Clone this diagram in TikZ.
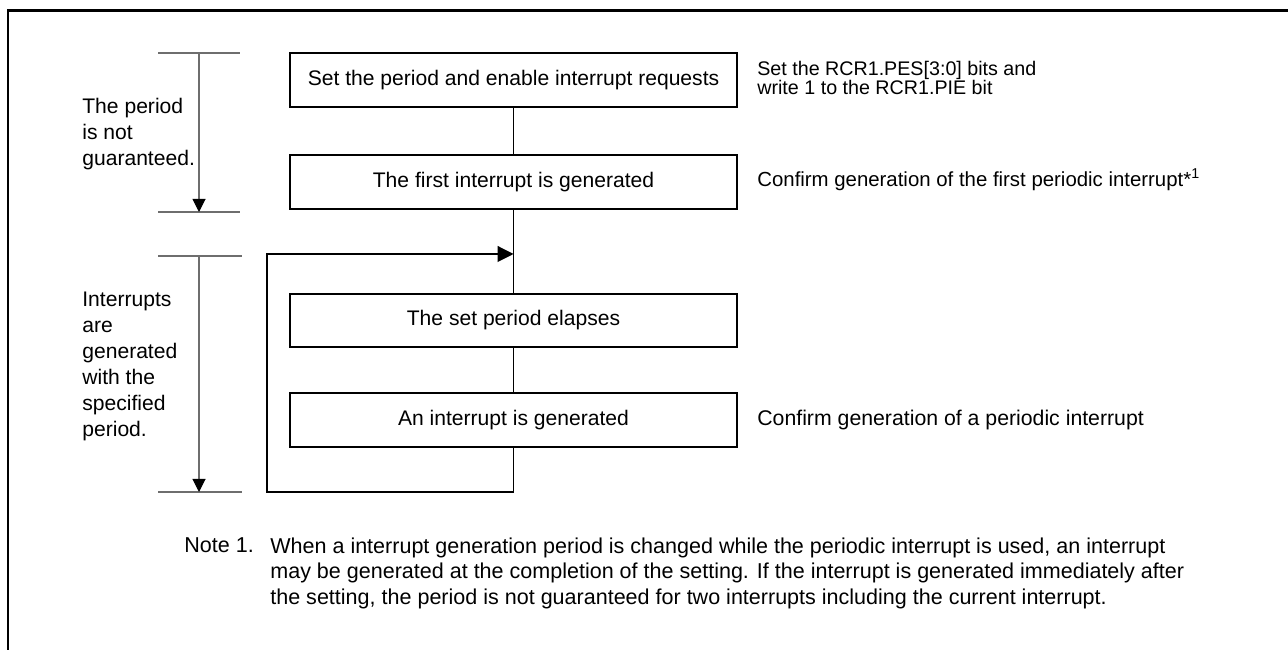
\documentclass[tikz,border=0pt]{standalone}
\usepackage{fontspec}
\setsansfont{Liberation Sans}
\usepackage{tikz}
\usetikzlibrary{arrows.meta,positioning,calc}
\definecolor{SpanGray}{HTML}{6E6E6E}
\newcommand\sidefont{\sffamily\fontsize{11.2}{11}\selectfont\lineskiplimit=-5pt\relax}

\begin{document}
\begin{tikzpicture}[x=1cm,y=1cm,font=\sffamily\fontsize{12}{14.8}\selectfont,
  stepbox/.style={draw,line width=1.1pt,minimum width=8.94cm,minimum height=1.07cm,inner sep=0pt},
  flowline/.style={line width=.6pt},
  spanline/.style={draw=SpanGray,line width=.6pt},
  spanarrow/.style={spanline,-{Triangle[length=.26cm,width=.26cm,color=black]}},
  sidetext/.style={align=left,inner sep=0pt,font=\sidefont},
  notetext/.style={anchor=north west,align=left,inner sep=0pt}]
  % Frame on the top and left only, as in the source figure.
  \useasboundingbox (0,0) rectangle (25.76,13);
  \draw[line width=1.7pt] (0.16,0) -- (0.16,12.78) -- (25.76,12.78);

  \node[stepbox] (setup) at (10.27,11.40) {Set the period and enable interrupt requests};
  \node[stepbox] (first) at (10.27,9.36) {The first interrupt is generated};
  \node[stepbox] (elapse) at (10.27,6.59) {The set period elapses};
  \node[stepbox] (irq) at (10.27,4.60) {An interrupt is generated};

  \coordinate (merge) at (10.27,7.92);
  \coordinate (loopcorner) at (5.34,3.16);
  \draw[flowline] (setup) -- (first);
  \draw[flowline] (first) -- (elapse);
  \draw[flowline] (elapse) -- (irq);
  \draw[flowline,-{Triangle[length=.32cm,width=.32cm]}] (irq.south) |- (loopcorner) |- (merge);

  \coordinate (span1top) at (3.98,11.94);
  \coordinate (span1bot) at (3.98,8.76);
  \coordinate (span2top) at (3.98,7.88);
  \coordinate (span2bot) at (3.98,3.16);
  \draw[spanline] ([xshift=-.82cm]span1top) -- ([xshift=.82cm]span1top);
  \draw[spanline] ([xshift=-.82cm]span1bot) -- ([xshift=.82cm]span1bot);
  \draw[spanline] ([xshift=-.82cm]span2top) -- ([xshift=.86cm]span2top);
  \draw[spanline] ([xshift=-.82cm]span2bot) -- ([xshift=.86cm]span2bot);
  \draw[spanarrow] (span1top) -- (span1bot);
  \draw[spanarrow] (span2top) -- (span2bot);

  \node[notetext] (unsure) at (1.64,11.04) {The period\\is not\\guaranteed.};
  \node[notetext] (steady) at (1.64,7.16) {Interrupts\\are\\generated\\with the\\specified\\period.};

  \node[sidetext,anchor=north west] (setbits) at (15.14,11.79) {Set the RCR1.PES[3:0] bits and\\write 1 to the RCR1.PIE bit};
  \node[sidetext,anchor=base west,font=\sffamily\fontsize{11.6}{14}\selectfont] (firstcheck) at (15.14,9.27) {Confirm generation of the first periodic interrupt*\textsuperscript{1}};
  \node[sidetext,anchor=base west,font=\sffamily\fontsize{12.1}{14}\selectfont] (irqcheck) at (15.14,4.49) {Confirm generation of a periodic interrupt};

  \node[anchor=base west,inner sep=0pt,font=\sffamily\fontsize{12.25}{14.5}\selectfont] (notetag) at (3.68,1.94) {Note 1.};
  \node[notetext,font=\sffamily\fontsize{12.25}{14.5}\selectfont] (notebody) at (5.40,2.25) {When a interrupt generation period is changed while the periodic interrupt is used, an interrupt\\may be generated at the completion of the setting. If the interrupt is generated immediately after\\the setting, the period is not guaranteed for two interrupts including the current interrupt.};
\end{tikzpicture}
\end{document}
